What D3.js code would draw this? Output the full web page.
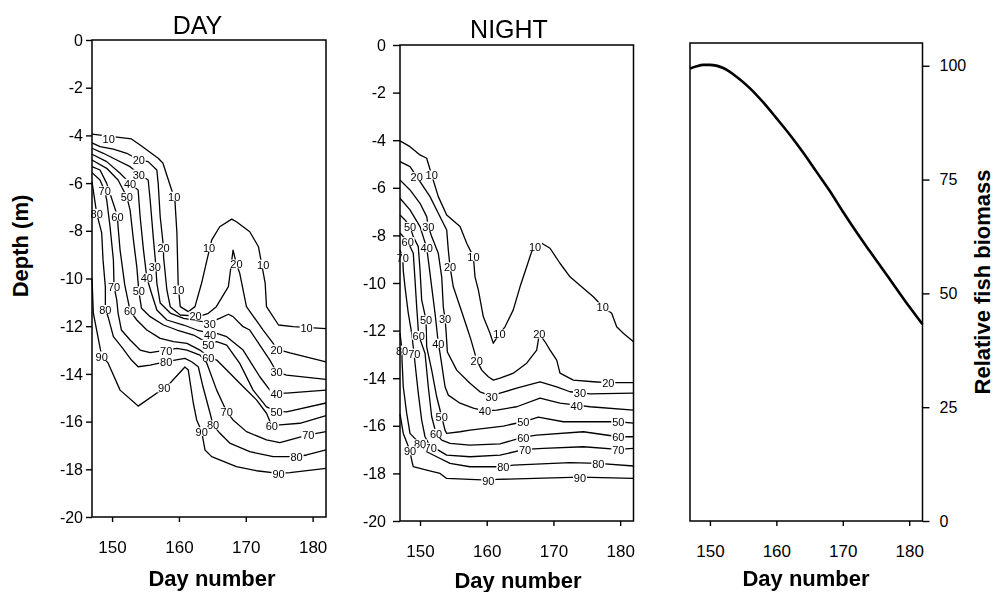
<!DOCTYPE html>
<html><head><meta charset="utf-8">
<script src="https://cdn.jsdelivr.net/npm/d3@7"></script>
<style>
body{margin:0;background:#fff}
svg text{font-family:"Liberation Sans",Arial,Helvetica,sans-serif}
.lbl{opacity:0.995}
</style></head>
<body><svg id="c" width="994" height="592"></svg>
<script>
// ---- data ----
const dayTicks = [150, 160, 170, 180];
const depthTicks = [0, -2, -4, -6, -8, -10, -12, -14, -16, -18, -20];
const biomassTicks = [0, 25, 50, 75, 100];
const levels = [10, 20, 30, 40, 50, 60, 70, 80, 90];

// DAY contour lines: [day number, depth] per level
const dayLines = [
 [[147.0,-3.95],[152.9,-4.15],[154.2,-4.40],[156.9,-4.96],[157.6,-5.16],[159.4,-6.71],[159.7,-8.09],[159.9,-10.36],[160.2,-11.18],[161.4,-11.39],[162.4,-11.18],[163.4,-10.19],[164.2,-9.22],[164.9,-8.39],[166.1,-7.83],[167.9,-7.51],[168.6,-7.62],[170.6,-8.04],[171.9,-8.67],[172.9,-10.19],[173.1,-11.18],[174.9,-11.95],[177.1,-12.02],[182,-12.1]],
 [[147,-4.31],[148.2,-4.47],[150.2,-4.58],[152.2,-4.75],[154.0,-5.03],[155.4,-5.10],[156.7,-5.45],[156.9,-6.01],[157.2,-7.41],[157.7,-8.71],[157.7,-9.09],[158.2,-10.48],[158.7,-11.18],[160.2,-11.53],[162.2,-11.57],[163.4,-11.56],[164.4,-11.46],[165.6,-11.18],[167.4,-10.34],[168.1,-8.81],[168.6,-9.39],[169.1,-9.78],[170.1,-11.18],[172.6,-12.16],[174.1,-12.72],[174.6,-12.96],[176.6,-13.12],[182,-13.5]],
 [[147,-4.54],[148.7,-4.75],[150.7,-5.03],[152.7,-5.31],[154.0,-5.62],[155.4,-5.87],[155.7,-6.71],[156.2,-8.39],[156.5,-9.3],[156.7,-10.19],[157.2,-11.03],[158.7,-11.45],[160.7,-11.67],[164.5,-11.85],[166.1,-11.67],[167.4,-11.50],[168.1,-11.60],[169.6,-12.02],[170.6,-12.16],[172.1,-12.79],[173.6,-13.42],[174.6,-13.91],[176.1,-14.05],[182,-14.23]],
 [[147,-4.79],[149.2,-5.10],[151.2,-5.59],[152.7,-6.01],[153.9,-6.29],[154.2,-7.41],[154.7,-8.81],[155.2,-9.97],[155.9,-10.62],[156.7,-11.32],[158.2,-11.74],[160.7,-11.95],[162.7,-12.16],[164.65,-12.30],[165.65,-12.30],[167.15,-12.44],[169.6,-13.0],[172.1,-14.12],[173.6,-14.68],[174.6,-14.81],[176.1,-14.81],[182,-14.68]],
 [[147,-5.03],[149.2,-5.38],[150.9,-5.87],[152.2,-6.57],[152.7,-7.13],[153.2,-8.39],[153.7,-9.51],[154.0,-10.52],[154.4,-11.25],[155.7,-11.60],[157.7,-11.95],[159.7,-12.16],[162.2,-12.37],[164.4,-12.72],[165.65,-12.65],[167.15,-12.79],[169.1,-13.56],[171.1,-14.68],[173.1,-15.38],[174.6,-15.56],[176.1,-15.59],[182,-15.22]],
 [[147,-5.31],[148.2,-5.45],[149.2,-6.01],[150.8,-7.38],[150.9,-7.83],[151.2,-8.81],[151.9,-10.27],[152.7,-11.36],[153.7,-11.74],[155.2,-12.16],[157.2,-12.51],[159.2,-12.65],[161.2,-12.72],[163.15,-13.0],[164.4,-13.28],[165.65,-13.42],[167.15,-13.84],[169.1,-14.39],[171.6,-15.09],[173.1,-15.65],[173.9,-16.18],[175.1,-16.14],[178.1,-16.07],[182,-15.75]],
 [[147,-5.56],[148.2,-5.87],[148.9,-6.32],[149.2,-6.71],[149.7,-7.83],[150.2,-9.22],[150.3,-10.34],[150.7,-10.90],[150.9,-11.45],[151.4,-12.16],[152.7,-12.58],[154.2,-13.0],[155.7,-13.11],[158.1,-13.0],[159.7,-12.93],[161.2,-13.0],[163.15,-13.21],[164.16,-13.54],[165.65,-14.68],[167.15,-15.59],[168.1,-15.93],[170.1,-16.42],[173.1,-16.77],[175.1,-16.88],[179.35,-16.56],[182,-16.42]],
 [[147,-5.94],[147.7,-7.27],[148.45,-8.09],[148.65,-9.22],[149.0,-10.36],[149.0,-11.3],[149.4,-11.60],[150.2,-12.44],[151.4,-12.86],[152.9,-13.42],[153.9,-13.70],[155.7,-13.63],[158.1,-13.49],[159.4,-13.42],[160.9,-13.35],[161.9,-13.49],[162.9,-13.70],[163.6,-14.54],[164.65,-15.64],[165.1,-16.14],[166.1,-16.48],[167.6,-16.90],[170.6,-17.26],[174.1,-17.47],[177.6,-17.47],[179.1,-17.40],[182,-17.19]],
 [[147,-10.0],[147.2,-11.45],[148.45,-13.25],[149.4,-13.54],[151.2,-14.68],[153.9,-15.35],[157.8,-14.59],[158.7,-14.38],[160.9,-13.71],[161.4,-13.84],[162.15,-15.22],[162.66,-15.93],[163.4,-16.42],[163.9,-17.19],[164.9,-17.47],[168.6,-17.89],[171.6,-18.06],[174.9,-18.17],[176.6,-18.14],[182,-17.96]]
];
const dayLabels = [
 [[149.5,-4.15],[159.3,-6.55],[159.9,-10.48],[164.5,-8.7],[172.6,-9.4],[179.1,-12.05]],
 [[162.5,-11.57],[157.7,-8.71],[154.0,-5.03],[168.6,-9.39],[174.6,-12.96]],
 [[154.0,-5.62],[156.4,-9.51],[164.6,-11.88],[174.6,-13.91]],
 [[152.7,-6.01],[155.2,-9.97],[164.65,-12.33],[174.6,-14.81]],
 [[152.2,-6.57],[154.0,-10.52],[164.4,-12.76],[174.6,-15.56]],
 [[150.8,-7.38],[152.7,-11.36],[164.4,-13.3],[173.9,-16.18]],
 [[148.9,-6.32],[150.3,-10.34],[158.1,-13.0],[167.15,-15.59],[179.35,-16.56]],
 [[147.7,-7.27],[149.0,-11.3],[158.1,-13.49],[165.1,-16.14],[177.6,-17.47]],
 [[148.45,-13.25],[157.8,-14.59],[163.4,-16.42],[174.9,-18.17]]
];

// NIGHT contour lines
const nightLines = [
 [[147,-4.03],[148.5,-4.27],[150,-4.62],[151.0,-4.76],[151.75,-5.46],[152.74,-6.37],[154.0,-7.14],[156.0,-7.63],[157.0,-8.33],[158.0,-8.89],[158.24,-9.74],[158.74,-10.29],[159.49,-11.42],[160.49,-12.11],[160.99,-12.53],[161.9,-12.14],[162.74,-11.84],[163.98,-11.13],[164.99,-10.16],[165.99,-9.32],[166.74,-8.68],[167.24,-8.47],[168.24,-8.33],[169.49,-8.54],[170.98,-9.17],[172.48,-9.74],[174.48,-10.22],[175.98,-10.58],[177.39,-11.0],[178.73,-11.27],[179.48,-11.84],[180.47,-12.11],[182,-12.47]],
 [[147,-4.90],[148.5,-5.11],[149.5,-5.53],[151.5,-6.37],[152.74,-7.07],[154.0,-7.77],[154.24,-8.61],[154.5,-9.32],[154.99,-10.16],[156.0,-11.0],[157.0,-11.84],[157.64,-12.39],[158.5,-13.24],[159.25,-13.66],[160.24,-13.94],[160.99,-14.08],[161.99,-14.0],[163.98,-13.79],[165.99,-13.37],[167.49,-12.82],[167.88,-12.14],[168.74,-12.47],[169.49,-12.82],[170.49,-13.24],[170.98,-13.79],[172.98,-14.08],[175.98,-14.15],[178.22,-14.19],[182,-14.19]],
 [[147,-5.67],[148.5,-6.09],[150,-6.65],[151.0,-7.21],[151.24,-7.61],[151.75,-8.05],[152.74,-8.75],[153.25,-9.74],[153.49,-11.0],[153.75,-11.51],[153.9,-12.0],[154.1,-12.9],[155.5,-13.66],[157.49,-14.21],[158.99,-14.57],[160.74,-14.75],[161.99,-14.63],[164.49,-14.42],[167.99,-14.15],[170.49,-14.36],[172.48,-14.57],[173.98,-14.61],[175.48,-14.66],[182,-14.63]],
 [[147,-6.44],[148.5,-6.93],[150,-7.63],[151.0,-8.52],[151.24,-9.03],[151.75,-10.16],[152.25,-11.27],[152.74,-12.53],[153.0,-12.95],[153.75,-14.36],[154.24,-14.71],[156.0,-15.05],[157.99,-15.26],[159.74,-15.37],[161.5,-15.34],[164.49,-15.20],[167.99,-14.84],[170.98,-15.05],[173.49,-15.13],[175.48,-15.20],[182,-15.34]],
 [[147,-7.14],[147.75,-7.35],[148.5,-7.63],[148.99,-8.05],[149.74,-8.47],[150,-9.45],[150.25,-10.71],[150.9,-11.55],[151.0,-12.68],[151.75,-13.66],[152.5,-14.78],[153.25,-15.62],[153.75,-16.18],[154.0,-16.32],[156.0,-16.25],[157.49,-16.18],[162.49,-16.01],[165.48,-15.83],[167.73,-15.64],[171.48,-15.83],[179.72,-15.83],[182,-15.89]],
 [[147,-7.9],[148.15,-8.26],[148.99,-8.75],[149.25,-9.87],[149.5,-11.0],[149.8,-12.2],[150.75,-12.95],[151.24,-14.36],[151.75,-15.62],[152.4,-16.32],[153.25,-16.60],[154.5,-16.74],[157.49,-16.81],[161.99,-16.76],[165.48,-16.48],[167.49,-16.39],[174.48,-16.25],[179.72,-16.46],[182,-16.46]],
 [[147,-8.61],[147.4,-8.94],[147.5,-9.5],[147.75,-10.16],[148.24,-11.27],[148.75,-12.11],[149.1,-12.95],[149.25,-13.37],[149.74,-14.63],[150.25,-15.76],[150.75,-16.46],[151.6,-16.90],[152.74,-17.02],[154.0,-17.23],[157.49,-17.30],[161.99,-17.23],[165.74,-16.99],[168.48,-16.95],[174.48,-16.88],[179.72,-16.99],[182,-16.95]],
 [[147,-12.1],[147.3,-12.82],[147.3,-13.24],[147.49,-14.36],[148.0,-15.47],[148.5,-16.32],[150,-16.76],[151.0,-17.09],[152.5,-17.30],[154.5,-17.58],[157.49,-17.72],[162.49,-17.72],[163.98,-17.65],[172.48,-17.55],[176.73,-17.58],[182,-17.69]],
 [[147,-15.5],[147.49,-16.32],[148.5,-17.05],[148.75,-17.44],[148.99,-17.72],[151.0,-17.86],[153.0,-18.0],[154.0,-18.21],[157.49,-18.25],[160.24,-18.28],[161.5,-18.25],[173.98,-18.16],[182,-18.21]]
];
const nightLabels = [
 [[151.75,-5.46],[158.0,-8.89],[161.9,-12.14],[167.24,-8.47],[177.39,-11.0]],
 [[149.5,-5.53],[154.5,-9.32],[158.5,-13.24],[167.88,-12.14],[178.22,-14.19]],
 [[151.24,-7.61],[153.75,-11.51],[160.74,-14.75],[173.98,-14.61]],
 [[151.0,-8.52],[152.74,-12.53],[159.74,-15.37],[173.49,-15.13]],
 [[148.5,-7.63],[150.9,-11.55],[153.25,-15.62],[165.48,-15.83],[179.72,-15.83]],
 [[148.15,-8.26],[149.8,-12.2],[152.4,-16.32],[165.48,-16.48],[179.72,-16.46]],
 [[147.4,-8.94],[149.15,-12.95],[151.6,-16.90],[165.74,-16.99],[179.72,-16.99]],
 [[147.3,-12.82],[150,-16.76],[162.49,-17.72],[176.73,-17.58]],
 [[148.5,-17.05],[160.24,-18.28],[173.98,-18.16]]
];

// relative fish biomass
const bioDays   = [147, 148, 149, 150, 152, 154, 156, 158, 160, 162, 164, 166, 168, 170, 172, 174, 176, 178, 180, 182];
const bioValues = [99.4, 99.9, 100.2, 100.2, 99.5, 97.6, 95.1, 92.0, 88.5, 84.9, 81.0, 76.8, 72.6, 68.0, 63.6, 59.4, 55.3, 51.2, 47.1, 43.2];

// ---- drawing ----
const svg = d3.select("#c");
const FONT = '"Liberation Sans",Arial,Helvetica,sans-serif';

const dayX = d3.scaleLinear().domain([147,182]).range([92,326]);
const dayY = d3.scaleLinear().domain([0,-20]).range([40,517]);
const nightX = d3.scaleLinear().domain([147,182]).range([400,633.5]);
const nightY = d3.scaleLinear().domain([0,-20]).range([45,521]);
const bioX = d3.scaleLinear().domain([147,182]).range([690,922.5]);
const bioY = d3.scaleLinear().domain([0,105]).range([521,43]);

function styleAxis(g, size){
  g.select(".domain").remove();
  g.selectAll(".tick line").attr("stroke","#000").attr("stroke-width",1.4);
  g.selectAll(".tick text").attr("font-family",FONT).attr("font-size",size).attr("fill","#000");
}

function contourPanel(xs, ys, lines, labels, tickLen, tickPad){
  const g = svg.append("g");
  const line = d3.line().x(d=>xs(d[0])).y(d=>ys(d[1])).curve(d3.curveLinear);
  g.selectAll("path.c").data(lines).join("path")
    .attr("class","c").attr("d",line)
    .attr("fill","none").attr("stroke","#000").attr("stroke-width",1.3)
    .attr("stroke-linejoin","round");
  const lblG = g.append("g").attr("class","lbl");
  labels.forEach((pts,i)=>{
    const lg = lblG.selectAll(null).data(pts).join("g")
      .attr("transform",d=>`translate(${xs(d[0])},${ys(d[1])})`);
    lg.append("rect").attr("x",-7).attr("y",-4.5).attr("width",14).attr("height",9).attr("fill","#fff");
    lg.append("text").attr("y",0.5)
      .attr("text-anchor","middle").attr("dominant-baseline","central")
      .attr("font-family",FONT).attr("font-size",11)
      .attr("fill","#000").text(levels[i]);
  });
  const [x0,x1] = xs.range(), [y0,y1] = ys.range();
  g.append("rect").attr("x",x0).attr("y",y0).attr("width",x1-x0).attr("height",y1-y0)
    .attr("fill","none").attr("stroke","#000").attr("stroke-width",1.5);
  const ax = g.append("g").attr("transform",`translate(${x0},0)`)
    .call(d3.axisLeft(ys).tickValues(depthTicks).tickSize(tickLen).tickPadding(tickPad).tickFormat(d=>String(d)));
  styleAxis(ax,16);
  const bx = g.append("g").attr("transform",`translate(0,${y1})`)
    .call(d3.axisBottom(xs).tickValues(dayTicks).tickSize(5).tickPadding(19).tickFormat(d=>String(d)));
  styleAxis(bx,17);
}

contourPanel(dayX, dayY, dayLines, dayLabels, 6, 3);
contourPanel(nightX, nightY, nightLines, nightLabels, 7, 7);

// biomass panel
(function(){
  const g = svg.append("g");
  const [x0,x1] = bioX.range(), [y0,y1] = bioY.range();
  g.append("rect").attr("x",x0).attr("y",y1).attr("width",x1-x0).attr("height",y0-y1)
    .attr("fill","none").attr("stroke","#000").attr("stroke-width",1.5);
  const pts = bioDays.map((d,i)=>[d,bioValues[i]]);
  g.append("path").datum(pts)
    .attr("d", d3.line().x(d=>bioX(d[0])).y(d=>bioY(d[1])).curve(d3.curveMonotoneX))
    .attr("fill","none").attr("stroke","#000").attr("stroke-width",2.6);
  const ry = g.append("g").attr("transform",`translate(${x1},0)`)
    .call(d3.axisRight(bioY).tickValues(biomassTicks).tickSize(7).tickPadding(10).tickFormat(d=>String(d)));
  styleAxis(ry,16);
  const bx = g.append("g").attr("transform",`translate(0,${y0})`)
    .call(d3.axisBottom(bioX).tickValues(dayTicks).tickSize(5).tickPadding(19).tickFormat(d=>String(d)));
  styleAxis(bx,17);
})();

// titles and axis labels
function txt(x,y,s,size,weight,rot){
  const t = svg.append("text").attr("font-family",FONT).attr("font-size",size)
    .attr("font-weight",weight||"normal").attr("text-anchor","middle").attr("fill","#000").text(s);
  if(rot) t.attr("transform",`translate(${x},${y}) rotate(${rot})`);
  else t.attr("x",x).attr("y",y);
}
txt(197.5,34,"DAY",25);
txt(509,38,"NIGHT",25);
txt(212,586,"Day number",22,"bold");
txt(518,588,"Day number",22,"bold");
txt(806,586,"Day number",22,"bold");
txt(28,246,"Depth (m)",22,"bold",-90);
txt(990,282,"Relative fish biomass",22,"bold",-90);
</script></body></html>
